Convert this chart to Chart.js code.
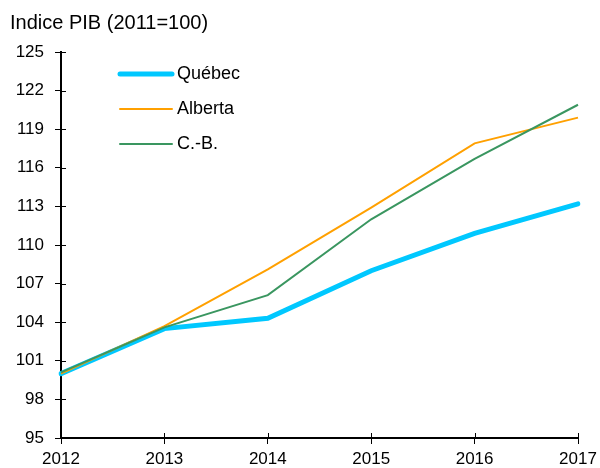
<!DOCTYPE html>
<html>
<head>
<meta charset="utf-8">
<script src="https://cdn.jsdelivr.net/npm/chart.js@4/dist/chart.umd.min.js"></script>
<style>
  html, body { margin: 0; padding: 0; background: #fff; }
  #wrap { width: 600px; height: 468px; }
</style>
</head>
<body>
<div id="wrap"><canvas id="chart" width="600" height="468"></canvas></div>
<script>
const years = ['2012', '2013', '2014', '2015', '2016', '2017'];
const quebec = [100.0, 103.5, 104.3, 108.0, 110.9, 113.2];
const alberta = [100.0, 103.7, 108.1, 112.9, 117.9, 119.9];
const cb = [100.1, 103.6, 106.1, 112.0, 116.7, 120.9];
const yTicks = [95, 98, 101, 104, 107, 110, 113, 116, 119, 122, 125];

const FONT = 'Liberation Sans, Arial, sans-serif';

// title, legend and the inner half of the tick marks
const extras = {
  id: 'extras',
  afterDraw(chart) {
    const ctx = chart.ctx;
    const xs = chart.scales.x, ys = chart.scales.y;
    ctx.save();

    ctx.strokeStyle = '#000';
    ctx.lineWidth = 1;
    ctx.beginPath();
    yTicks.forEach(v => {
      const y = Math.round(ys.getPixelForValue(v)) + 0.5;
      ctx.moveTo(xs.left, y);
      ctx.lineTo(xs.left + 5, y);
    });
    years.forEach((_, i) => {
      const x = Math.round(xs.getPixelForValue(i)) + 0.5;
      ctx.moveTo(x, ys.bottom);
      ctx.lineTo(x, ys.bottom - 5);
    });
    ctx.stroke();

    ctx.fillStyle = '#000';
    ctx.font = '20px ' + FONT;
    ctx.textBaseline = 'alphabetic';
    ctx.textAlign = 'left';
    ctx.fillText('Indice PIB (2011=100)', 10, 29);

    const rows = [74, 109, 144];
    [0, 1, 2].forEach(i => {
      const ds = chart.data.datasets[i];
      const y = rows[i];
      ctx.strokeStyle = ds.borderColor;
      ctx.lineWidth = ds.borderWidth;
      ctx.lineCap = 'round';
      ctx.beginPath();
      ctx.moveTo(120, y);
      ctx.lineTo(172, y);
      ctx.stroke();
      ctx.fillStyle = '#000';
      ctx.font = '18px ' + FONT;
      ctx.textBaseline = 'middle';
      ctx.fillText(ds.label, 177, y);
    });
    ctx.restore();
  }
};

new Chart(document.getElementById('chart'), {
  type: 'line',
  data: {
    labels: years,
    datasets: [
      { label: 'Québec', data: quebec, borderColor: '#00c8ff', borderWidth: 5, borderCapStyle: 'round', pointRadius: 0, tension: 0, order: 3 },
      { label: 'Alberta', data: alberta, borderColor: '#ffa000', borderWidth: 2, pointRadius: 0, tension: 0, order: 2 },
      { label: 'C.-B.', data: cb, borderColor: '#3a9660', borderWidth: 2, pointRadius: 0, tension: 0, order: 1 }
    ]
  },
  options: {
    responsive: false,
    animation: false,
    layout: { padding: { top: 52, right: 22, left: 0, bottom: 0 } },
    plugins: {
      legend: { display: false },
      tooltip: { enabled: false }
    },
    scales: {
      x: {
        offset: false,
        afterFit: s => { s.height = 30; s.paddingLeft = 0; s.paddingRight = 0; },
        border: { color: '#000', width: 2 },
        grid: { drawOnChartArea: false, color: '#000', tickLength: 6, lineWidth: 1 },
        ticks: { color: '#000', font: { family: FONT, size: 17 }, padding: 5, maxRotation: 0 }
      },
      y: {
        min: 95,
        max: 125,
        afterFit: s => { s.width = 61; s.paddingTop = 0; s.paddingBottom = 0; },
        afterBuildTicks: s => { s.ticks = yTicks.map(v => ({ value: v })); },
        border: { color: '#000', width: 2 },
        grid: { drawOnChartArea: false, color: '#000', tickLength: 6, lineWidth: 1 },
        ticks: { color: '#000', font: { family: FONT, size: 17 }, padding: 11 }
      }
    }
  },
  plugins: [extras]
});
</script>
</body>
</html>
